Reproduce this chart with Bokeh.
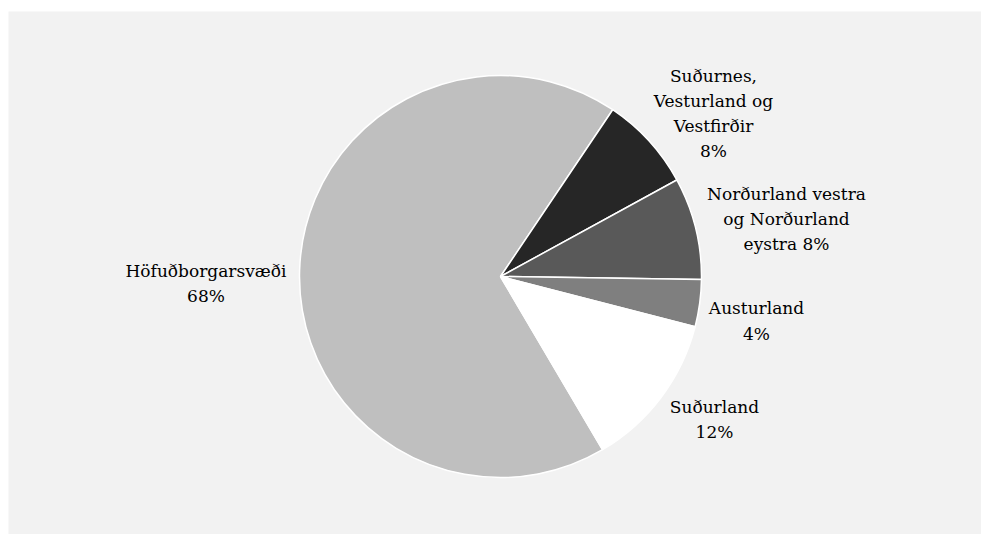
import math
from bokeh.plotting import figure
from bokeh.models import Range1d, ColumnDataSource
from bokeh.core.properties import value
from bokeh.embed import file_html
from bokeh.resources import INLINE

# Data
regions = ["Höfuðborgarsvæði", "Suðurnes, Vesturland og Vestfirðir",
           "Norðurland vestra og Norðurland eystra", "Austurland", "Suðurland"]
shares = [67.9, 7.6, 8.2, 3.8, 12.5]
label_texts = ["Höfuðborgarsvæði\n68%", "Suðurnes,\nVesturland og\nVestfirðir\n8%",
               "Norðurland vestra\nog Norðurland\neystra 8%", "Austurland\n4%", "Suðurland\n12%"]
colors = ["#bfbfbf", "#262626", "#595959", "#7f7f7f", "#ffffff"]

# Layout (pixels)
W, H = 981, 534
ML, MT = 8, 11
FW, FH = W - ML, H - MT
cx, cy = 492, 265          # pie centre inside the plot frame (from left / from top)
R = 201
first_angle_deg = -59.5    # start of first slice, slices run clockwise
label_x = [-294.5, 213, 286, 256, 214]
label_y = [-7, 163, 57.5, -44.5, -143]

total = sum(shares)
cum = [0.0]
for s in shares:
    cum.append(cum[-1] + s / total)
a0 = math.radians(first_angle_deg)
starts = [a0 - cum[i + 1] * 2 * math.pi for i in range(len(shares))]
ends = [a0 - cum[i] * 2 * math.pi for i in range(len(shares))]

src = ColumnDataSource(dict(region=regions, share=shares, start=starts, end=ends, color=colors))
lsrc = ColumnDataSource(dict(x=label_x, y=label_y, text=label_texts))

p = figure(width=W, height=H, output_backend="svg", toolbar_location=None,
           x_range=Range1d(-cx, FW - cx), y_range=Range1d(-(FH - cy), cy),
           min_border_left=ML, min_border_right=0, min_border_bottom=0, min_border_top=MT)
p.axis.visible = False
p.grid.visible = False
p.outline_line_color = None
p.background_fill_color = "#f2f2f2"
p.border_fill_color = "white"

p.wedge(x=0, y=0, radius=R, start_angle="start", end_angle="end", fill_color="color",
        line_color="white", line_width=1.5, source=src)
p.text(x="x", y="y", text="text", source=lsrc,
       text_font=value("DejaVu Serif"),
       text_font_size="17px", text_align="center", text_baseline="middle",
       text_color="#000000", text_line_height=1.26)

html = file_html(p, INLINE)
html = html.replace("<head>", "<head><style>html,body{overflow:hidden;}</style>", 1)
open("out.html", "w").write(html)
